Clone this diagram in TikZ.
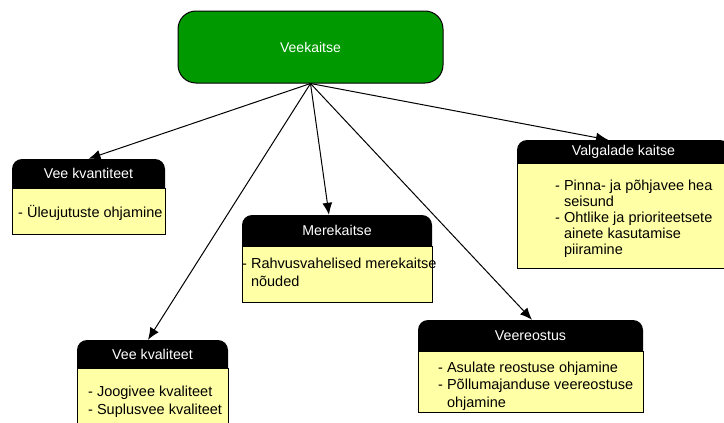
\documentclass[tikz,border=0pt]{standalone}
\usepackage{fontspec}
\setmainfont{Liberation Sans}
\usetikzlibrary{arrows.meta}
\definecolor{capgreen}{RGB}{0,153,0}
\definecolor{notepad}{RGB}{255,255,166}
\tikzset{
  rootbox/.style={draw=black, line width=1pt, fill=capgreen, rounded corners=18pt,
    text=white, inner sep=0pt, font=\fontsize{14}{17}\selectfont},
  headlabel/.style={inner sep=0pt, text=white, font=\fontsize{14.2}{17}\selectfont},
  % anchored at the baseline of the last line
  notes/.style={inner sep=0pt, anchor=base west, align=left,
    font=\fontsize{14.5}{17.5}\selectfont},
  link/.style={line width=1pt, -{Latex[length=12pt,width=10pt]}},
}
% card: name, left, top, right, header bottom, bottom, title
\newcommand\topiccard[7]{%
  \fill[black, rounded corners=10pt] (#2,#3) rectangle (#4,#5+12);
  \draw[line width=1pt, fill=notepad] (#2,#5) rectangle (#4,#6);
  \node[headlabel, minimum width={(#4-#2)*1pt}, minimum height={(#5-#3)*1pt}]
    (#1) at ({(#2+#4)/2},{(#3+#5)/2}) {#7};
}
\newcommand\hang{\hphantom{-\ }}
\begin{document}
\begin{tikzpicture}[x=1pt,y=-1pt]
  \useasboundingbox (0,0) rectangle (724,423);

  \node[rootbox, minimum width=265pt, minimum height=72pt] (root) at (310.5,47) {Veekaitse};

  \topiccard{kvant}{12}{159}{165}{188}{234}{Vee kvantiteet}
  \topiccard{mere}{242}{215}{432}{246}{302}{Merekaitse}
  \topiccard{valg}{517}{140}{730}{163}{268}{Valgalade kaitse}
  \topiccard{kval}{77}{340}{228}{368}{430}{Vee kvaliteet}
  \topiccard{veer}{418}{320}{643}{351}{412}{Veereostus}

  \node[notes] (kvantnotes) at (18,217) {- Üleujutuste ohjamine};
  \node[notes] (merenotes) at (242,286) {- Rahvusvahelised merekaitse\\\hang nõuded};
  \node[notes, font=\fontsize{14.5}{16}\selectfont] (valgnotes) at (555,254)
    {- Pinna- ja põhjavee hea\\\hang seisund\\- Ohtlike ja prioriteetsete\\\hang ainete kasutamise\\\hang piiramine};
  \node[notes] (kvalnotes) at (88,414) {- Joogivee kvaliteet\\- Suplusvee kvaliteet};
  \node[notes] (veernotes) at (438,407) {- Asulate reostuse ohjamine\\- Põllumajanduse veereostuse\\\hang ohjamine};

  \draw[link] (root.south) -- (kvant.north);
  \draw[link] (root.south) -- ([xshift=-4.5pt]kval.north);
  \draw[link] (root.south) -- ([xshift=-8pt]mere.north);
  \draw[link] (root.south) -- ([xshift=1.5pt]veer.north);
  \draw[link] (root.south) -- ([xshift=-15.5pt]valg.north);
\end{tikzpicture}
\end{document}
